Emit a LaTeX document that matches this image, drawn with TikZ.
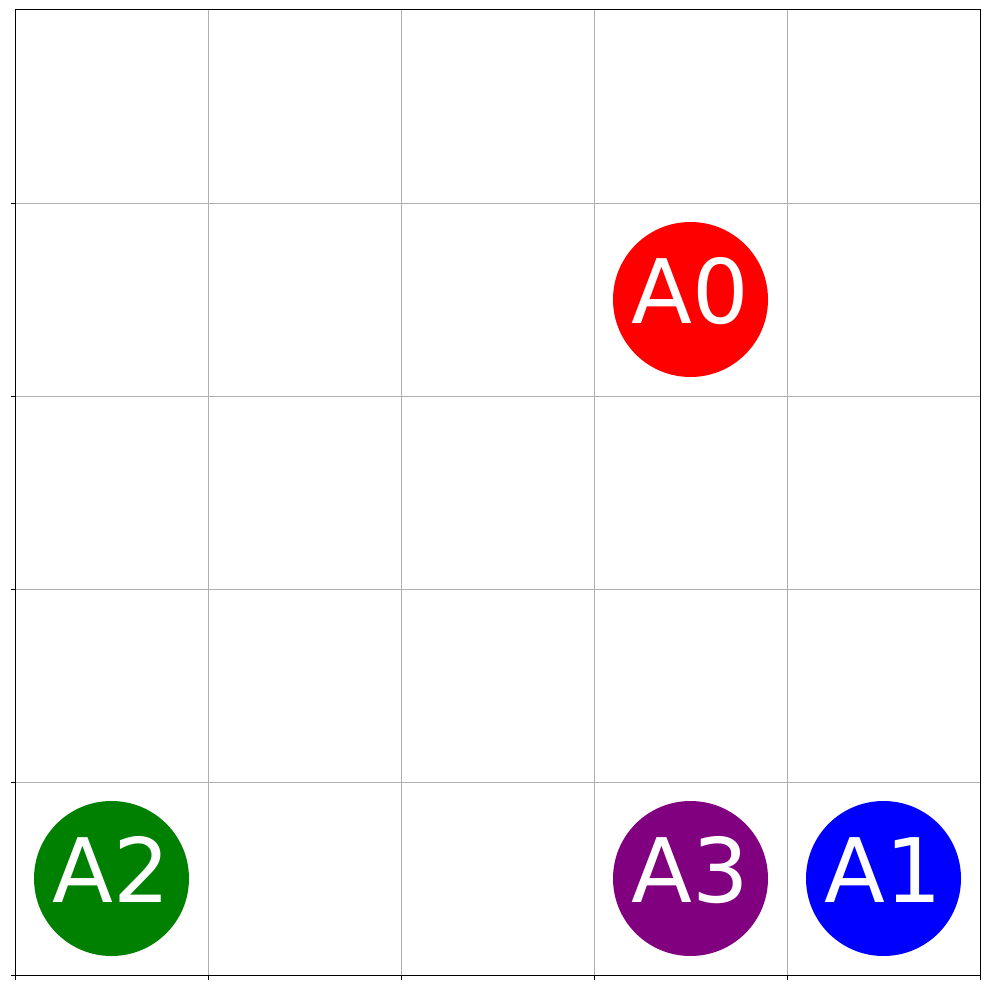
\documentclass[tikz,border=0pt]{standalone}
\usepackage{fontspec}
\setmainfont{DejaVu Sans}
\tikzset{
  gridline/.style={draw={rgb,255:red,176;green,176;blue,176}, line width=1pt},
  frame/.style={draw=black, line width=1pt},
  tickmark/.style={draw=black, line width=1pt},
  agent/.style={circle, minimum size=155pt, inner sep=0pt, draw=none},
  agentlabel/.style={text=white, font=\fontsize{89}{89}\selectfont, anchor=base, inner sep=0pt},
}
\begin{document}
\begin{tikzpicture}[x=1pt,y=-1pt]
\useasboundingbox (0,0) rectangle (990,990);
\fill[white] (0,0) rectangle (990,990);
% grid
\foreach \v in {208,401,594,787} {
  \draw[gridline] (\v,10) -- (\v,975);
  \draw[gridline] (15,\v-5) -- (980,\v-5);
}
% agents
\node[agent, fill=red] (a0) at (690.5,299.5) {};
\node[agentlabel] (t0) at (690.5,323) {A0};
\node[agent, fill={rgb,255:red,0;green,0;blue,255}] (a1) at (883.5,878.5) {};
\node[agentlabel] (t1) at (883.5,902) {A1};
\node[agent, fill={rgb,255:red,0;green,128;blue,0}] (a2) at (111.5,878.5) {};
\node[agentlabel] (t2) at (111.5,902) {A2};
\node[agent, fill={rgb,255:red,128;green,0;blue,128}] (a3) at (690.5,878.5) {};
\node[agentlabel] (t3) at (690.5,902) {A3};
% frame
\draw[frame] (15,10) rectangle (980,975);
% ticks
\foreach \v in {203,396,589,782,975} {
  \draw[tickmark] (10.5,\v) -- (15,\v);
}
\foreach \v in {15,208,401,594,787,980} {
  \draw[tickmark] (\v,975) -- (\v,979.5);
}
\end{tikzpicture}
\end{document}
